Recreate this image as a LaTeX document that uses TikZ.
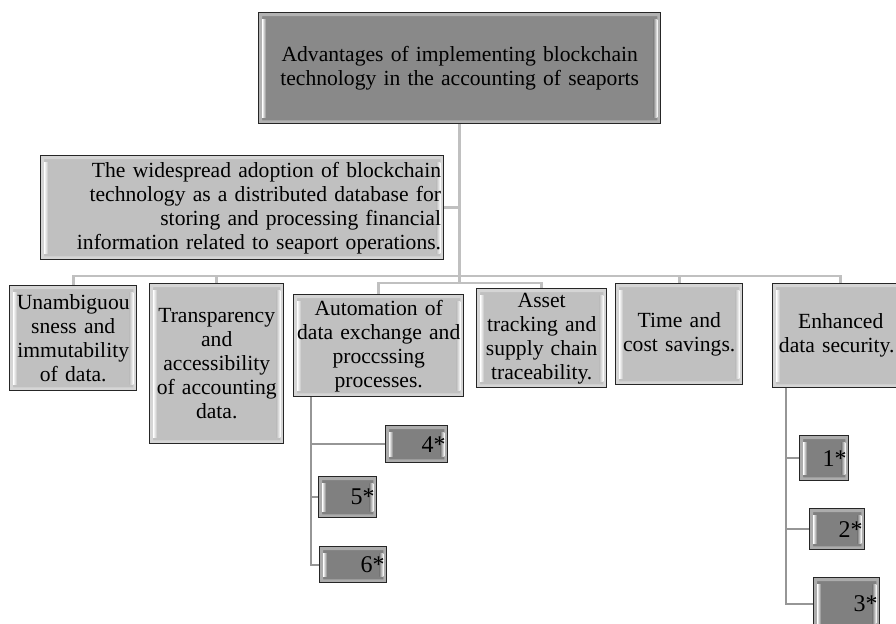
\documentclass[tikz,border=0pt]{standalone}
\usepackage{fontspec}
\setmainfont{Liberation Serif}
\usetikzlibrary{backgrounds,calc}
\newcommand\mybodyfont{\fontsize{16.2}{18}\selectfont}
\newcommand\mysmallboxfont{\fontsize{18}{18}\selectfont}
\definecolor{topfill}{RGB}{137,137,137}
\definecolor{lightfill}{RGB}{192,192,192}
\definecolor{smallfill}{RGB}{128,128,128}
\definecolor{busgray}{RGB}{192,192,192}
\definecolor{subgray}{RGB}{150,150,150}
\tikzset{
  bevel/.style={path picture={
    \fill[white,opacity=.35,even odd rule]
      (path picture bounding box.north west) rectangle (path picture bounding box.south east)
      ([shift={(2.5pt,-2.5pt)}]path picture bounding box.north west) rectangle ([shift={(-2.5pt,2.5pt)}]path picture bounding box.south east);
    \shade[left color=white, right color=#1]
      ([shift={(2.5pt,-5pt)}]path picture bounding box.north west) rectangle ([shift={(5.5pt,5pt)}]path picture bounding box.south west);
    \shade[left color=#1, right color=white]
      ([shift={(-5.5pt,-5pt)}]path picture bounding box.north east) rectangle ([shift={(-2.5pt,5pt)}]path picture bounding box.south east);
  }},
  box/.style={draw=black!85, line width=1.1pt, fill=#1, bevel=#1, inner xsep=2pt, inner ysep=1pt,
    font=\mybodyfont, anchor=north west},
  smallbox/.style={box=smallfill, font=\mysmallboxfont, inner xsep=1.5pt, align=right},
  conn/.style={draw=busgray, line width=2.2pt},
  subconn/.style={draw=subgray, line width=1.8pt},
}
\begin{document}
\begin{tikzpicture}[x=0.75pt,y=-0.75pt]
\useasboundingbox (0,0) rectangle (896,624);
% main boxes
\node[box=topfill, text width=297.5pt, minimum height=83.25pt, align=center] (top) at (258,12)
  {Advantages of implementing blockchain\\technology in the accounting of seaports};
\node[box=lightfill, text width=298.25pt, minimum height=78pt, align=right] (second) at (40,155)
  {The widespread adoption of blockchain\\technology as a distributed database for\\storing and processing financial\\information related to seaport operations.};
\node[box=lightfill, text width=91.25pt, minimum height=78.75pt, align=center] (b1) at (9,285)
  {\mbox{Unambiguou}\\sness and\\\mbox{immutability}\\of data.};
\node[box=lightfill, text width=96.5pt, minimum height=120pt, align=center] (b2) at (149,283)
  {Transparency\\and\\accessibility\\of accounting\\data.};
\node[box=lightfill, text width=123.5pt, minimum height=76.5pt, align=center] (b3) at (293,294)
  {Automation of\\\mbox{data exchange and}\\proccssing\\processes.};
\node[box=lightfill, text width=93.5pt, minimum height=74.25pt, align=center] (b4) at (476,288)
  {Asset\\tracking and\\supply chain\\traceability.};
\node[box=lightfill, text width=91.25pt, minimum height=75.75pt, align=center] (b5) at (615,283)
  {Time and\\cost savings.};
\node[box=lightfill, text width=98pt, minimum height=78pt, align=center] (b6) at (772,283)
  {Enhanced\hspace{6pt}\\\mbox{data security.\hspace{6pt}}};
% small boxes
\node[smallbox, text width=43.5pt, minimum height=27.75pt] (s4) at (385,425) {4*};
\node[smallbox, text width=40.5pt, minimum height=30.75pt] (s5) at (318,476) {5*};
\node[smallbox, text width=47.25pt, minimum height=27pt] (s6) at (319,546) {6*};
\node[smallbox, text width=33.75pt, minimum height=33.75pt] (s1) at (799,435) {1*};
\node[smallbox, text width=38.25pt, minimum height=30.75pt] (s2) at (809,508) {2*};
\node[smallbox, text width=46.5pt, minimum height=39pt] (s3) at (813,577) {3*};
% connectors
\coordinate (busA) at (458,276);
\coordinate (busB) at (458,283);
\coordinate (v3) at ([xshift=13.5pt]b3.south west);
\coordinate (v6) at ([xshift=10.5pt]b6.south west);
\begin{pgfonlayer}{background}
\draw[conn] (top.south) -- (top.south |- busB);
\draw[conn] (second.east) -- (second.east -| top.south);
\draw[conn] (b1.north) -- (b1.north |- busA) -- (b6.north |- busA) -- (b6.north);
\draw[conn] (b2.north) -- (b2.north |- busA);
\draw[conn] (b5.north) -- (b5.north |- busA);
\draw[conn] (b3.north) -- (b3.north |- busB) -- (b4.north |- busB) -- (b4.north);
\draw[subconn] (v3) |- (s4.west);
\draw[subconn] (v3) |- (s5.west);
\draw[subconn] (v3) |- (s6.west);
\draw[subconn] (v6) |- (s1.west);
\draw[subconn] (v6) |- (s2.west);
\draw[subconn] (v6) |- (s3.west);
\end{pgfonlayer}
\end{tikzpicture}
\end{document}
